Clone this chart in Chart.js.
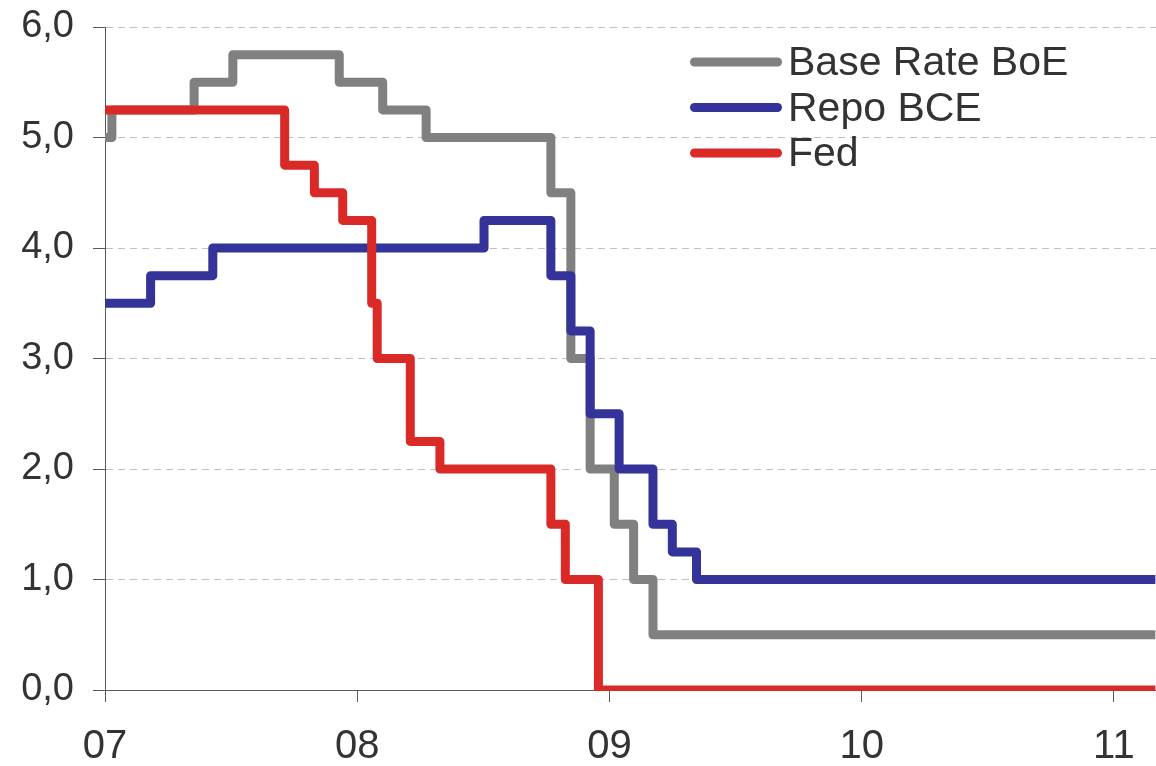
<!DOCTYPE html>
<html>
<head>
<meta charset="utf-8">
<title>Taux directeurs</title>
<script src="https://cdn.jsdelivr.net/npm/chart.js@4.4.1/dist/chart.umd.min.js"></script>
<style>
  html, body { margin: 0; padding: 0; background: #fff; }
</style>
</head>
<body>
<canvas id="rateChart" width="1156" height="766"></canvas>
<script>
// series names (legend)
const seriesNames = ['Base Rate BoE', 'Repo BCE', 'Fed'];

// Bank of England base rate: change dates and new levels
const boeDates = ['2007-01-01', '2007-01-11', '2007-05-10', '2007-07-05', '2007-12-06', '2008-02-07',
                  '2008-04-10', '2008-10-08', '2008-11-06', '2008-12-04', '2009-01-08', '2009-02-05',
                  '2009-03-05', '2011-03-02'];
const boeRates = [5.0, 5.25, 5.5, 5.75, 5.5, 5.25, 5.0, 4.5, 3.0, 2.0, 1.5, 1.0, 0.5, 0.5];

// ECB repo rate
const bceDates = ['2007-01-01', '2007-03-08', '2007-06-06', '2008-07-03', '2008-10-08', '2008-11-06',
                  '2008-12-04', '2009-01-15', '2009-03-05', '2009-04-02', '2009-05-07', '2011-03-02'];
const bceRates = [3.5, 3.75, 4.0, 4.25, 3.75, 3.25, 2.5, 2.0, 1.5, 1.25, 1.0, 1.0];

// Fed funds target
const fedDates = ['2007-01-01', '2007-09-18', '2007-10-31', '2007-12-11', '2008-01-22', '2008-01-30',
                  '2008-03-18', '2008-04-30', '2008-10-08', '2008-10-29', '2008-12-16', '2011-03-02'];
const fedRates = [5.25, 4.75, 4.5, 4.25, 3.5, 3.0, 2.25, 2.0, 1.5, 1.0, 0.0, 0.0];

// axes
const xTickYears = [2007, 2008, 2009, 2010, 2011];
const xMin = 2007;
const xMax = 2011.167;
const yMin = 0;
const yMax = 6;

const seriesColors = ['#808080', '#333399', '#da2a27'];

// date string -> decimal year
function toYear(s) {
    const d = new Date(s + 'T00:00:00Z');
    const y = d.getUTCFullYear();
    const start = Date.UTC(y, 0, 1);
    const end = Date.UTC(y + 1, 0, 1);
    return y + (d.getTime() - start) / (end - start);
}

function toPoints(dates, rates) {
    return dates.map((d, i) => ({ x: toYear(d), y: rates[i] }));
}

// legend drawn in the top right corner, like the original
const cornerLegend = {
    id: 'cornerLegend',
    afterDraw(chart) {
        const ctx = chart.ctx;
        ctx.save();
        ctx.font = '41px "Liberation Sans", Arial, sans-serif';
        ctx.textBaseline = 'alphabetic';
        chart.data.datasets.forEach((ds, i) => {
            const y = 62 + i * 45.5;
            ctx.strokeStyle = ds.borderColor;
            ctx.lineWidth = 9;
            ctx.lineCap = 'round';
            ctx.beginPath();
            ctx.moveTo(694.5, y);
            ctx.lineTo(777.5, y);
            ctx.stroke();
            ctx.fillStyle = '#333333';
            ctx.fillText(ds.label, 788, y + 13);
        });
        ctx.restore();
    }
};

const allSeries = [toPoints(boeDates, boeRates), toPoints(bceDates, bceRates), toPoints(fedDates, fedRates)];

const ctx = document.getElementById('rateChart').getContext('2d');
new Chart(ctx, {
    type: 'line',
    data: {
        datasets: allSeries.map((pts, i) => ({
            label: seriesNames[i],
            data: pts,
            borderColor: seriesColors[i],
            backgroundColor: seriesColors[i],
            borderWidth: 9,
            borderJoinStyle: 'round',
            stepped: true,
            pointRadius: 0,
            fill: false,
            order: 3 - i,
            clip: { left: 0, top: 10, right: 0, bottom: 1 }
        }))
    },
    options: {
        responsive: false,
        animation: false,
        devicePixelRatio: 1,
        layout: { padding: { top: 27, right: 0, bottom: 0, left: 0 } },
        plugins: {
            legend: { display: false },
            tooltip: { enabled: false }
        },
        scales: {
            x: {
                type: 'linear',
                min: xMin,
                max: xMax,
                afterBuildTicks: function(scale) {
                    scale.ticks = xTickYears.map(v => ({ value: v }));
                },
                afterFit: function(scale) {
                    scale.height = 76;
                    scale.paddingLeft = 0;
                    scale.paddingRight = 0;
                },
                ticks: {
                    autoSkip: false,
                    maxRotation: 0,
                    padding: 21,
                    color: '#333333',
                    font: { family: '"Liberation Sans", Arial, sans-serif', size: 40 },
                    callback: v => String(v).slice(2)
                },
                grid: {
                    drawOnChartArea: false,
                    tickLength: 12,
                    tickColor: '#595959',
                    tickWidth: 1
                },
                border: { color: '#595959', width: 1 }
            },
            y: {
                min: yMin,
                max: yMax,
                afterFit: function(scale) {
                    scale.width = 105;
                    scale.paddingTop = 0;
                    scale.paddingBottom = 0;
                },
                ticks: {
                    stepSize: 1,
                    padding: 19,
                    color: '#333333',
                    font: { family: '"Liberation Sans", Arial, sans-serif', size: 38 },
                    callback: v => v.toFixed(1).replace('.', ',')
                },
                grid: {
                    color: '#c0c0c0',
                    lineWidth: 1,
                    tickLength: 12,
                    tickColor: '#595959',
                    tickBorderDash: []
                },
                border: { color: '#595959', width: 1, dash: [7, 5] }
            }
        }
    },
    plugins: [cornerLegend]
});
</script>
</body>
</html>
